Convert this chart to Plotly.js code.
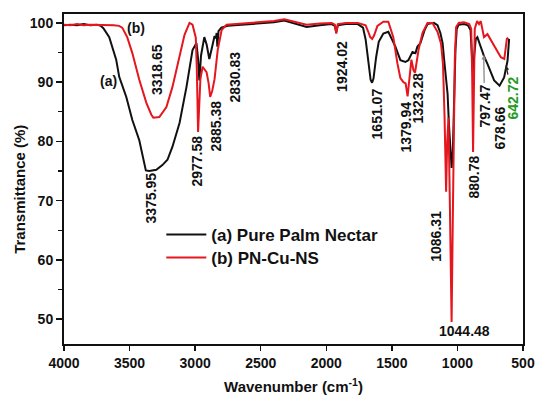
<!DOCTYPE html>
<html>
<head>
<meta charset="utf-8">
<script src="https://cdn.plot.ly/plotly-3.0.1.min.js"></script>
<style>
  html, body { margin: 0; padding: 0; background: #fff; }
  #chart { width: 535px; height: 396px; }
</style>
</head>
<body>
<div id="chart"></div>
<script>
// FTIR spectrum (a): pure palm nectar
var wavenumberA = [4000, 3950, 3900, 3850, 3800, 3750, 3720, 3700, 3655, 3602, 3579, 3525, 3479, 3426,
  3375.95, 3349, 3296, 3250, 3211, 3173, 3119, 3066, 3020, 2990, 2978, 2968, 2955, 2930, 2912, 2892,
  2875, 2852, 2842, 2836, 2830.83, 2822, 2800, 2750, 2700, 2600, 2500, 2400, 2320, 2250, 2150, 2050,
  1960, 1935, 1924.02, 1912, 1850, 1760, 1720, 1700, 1680, 1662, 1651.07, 1640, 1620, 1600, 1565, 1527,
  1473, 1435, 1397, 1374, 1343, 1320, 1305, 1282, 1250, 1228, 1180, 1152, 1130, 1113, 1100, 1086.31,
  1075, 1065, 1055, 1044.48, 1035, 1025, 1015, 1005, 990, 950, 920, 900, 890, 880.78, 872, 860, 848,
  822, 797.47, 771, 720, 678.66, 644, 618, 612, 606];
var transmittanceA = [99.6, 99.7, 99.6, 99.8, 99.6, 99.7, 99.5, 99.1, 97.6, 93.8, 90.9, 87.5, 83.6, 80.2,
  75.1, 75.0, 75.2, 76.0, 76.9, 79.1, 83.1, 89.2, 95.4, 96.6, 94.0, 90.3, 94.5, 97.6, 96.3, 93.9,
  95.5, 97.8, 97.4, 98.3, 96.0, 98.6, 99.2, 99.5, 99.6, 99.8, 99.9, 100.1, 100.4, 100.0, 99.3, 99.6,
  99.8, 99.5, 98.4, 99.6, 99.8, 99.8, 99.2, 97.2, 93.5, 90.4, 89.9, 90.6, 94.2, 96.8, 98.2, 98.5,
  96.0, 93.7, 93.4, 93.7, 95.1, 94.9, 96.0, 96.6, 98.8, 99.8, 100.0, 99.6, 98.3, 96.6, 93.5, 90.8,
  88.0, 83.0, 78.0, 75.5, 78.5, 88.0, 95.5, 99.0, 99.7, 99.8, 99.6, 98.8, 95.5, 90.8, 94.5, 97.3, 97.6,
  95.9, 94.4, 93.1, 90.3, 89.4, 90.8, 93.6, 96.3, 97.3];

// FTIR spectrum (b): PN-Cu-NS
var wavenumberB = [4000, 3950, 3900, 3850, 3800, 3700, 3620, 3580, 3556, 3518, 3479, 3426, 3372, 3334,
  3318.65, 3273, 3219, 3173, 3119, 3081, 3043, 3020, 2995, 2987, 2977.58, 2968, 2960, 2943, 2913, 2897,
  2885.38, 2870, 2852, 2828, 2798, 2760, 2700, 2600, 2500, 2400, 2320, 2250, 2150, 2050, 1960, 1935,
  1924.02, 1912, 1850, 1760, 1700, 1680, 1665, 1650, 1635, 1610, 1565, 1527, 1489, 1458, 1435, 1412,
  1395, 1379.94, 1370, 1351, 1335, 1323.28, 1310, 1297, 1266, 1228, 1190, 1152, 1125, 1110, 1098,
  1086.31, 1078, 1068, 1058, 1050, 1044.48, 1038, 1030, 1020, 1010, 990, 950, 910, 895, 888, 880.78,
  875, 868, 850, 835, 822, 797.47, 771, 720, 669, 642.72, 623, 612];
var transmittanceB = [99.7, 99.6, 99.8, 99.6, 99.7, 99.7, 99.6, 99.5, 99.2, 97.6, 94.9, 90.4, 86.5, 84.5,
  84.0, 84.1, 85.8, 89.2, 94.3, 98.0, 100.0, 99.7, 97.5, 92.0, 81.6, 86.0, 90.5, 92.6, 91.7, 89.8,
  87.5, 88.5, 90.5, 95.4, 98.8, 99.7, 99.8, 100.0, 100.1, 100.3, 100.6, 100.2, 99.7, 99.9, 100.0, 99.7,
  98.2, 99.8, 100.0, 100.0, 99.6, 98.5, 97.6, 97.3, 97.9, 99.5, 100.2, 100.2, 97.6, 93.2, 90.7, 90.0,
  89.8, 87.6, 89.8, 93.8, 92.0, 91.6, 93.5, 95.4, 98.3, 100.0, 100.0, 98.5, 96.5, 93.0, 84.0,
  71.5, 80.0, 84.0, 70.0, 57.0, 49.5, 62.0, 80.0, 94.0, 99.3, 100.0, 100.1, 99.8, 99.0, 92.0, 78.2,
  90.0, 99.0, 100.3, 99.8, 100.3, 97.6, 98.1, 96.2, 94.2, 93.9, 97.3, 97.5];

var seriesNames = ['(a) Pure Palm Nectar', '(b) PN-Cu-NS'];
var xTicks = [4000, 3500, 3000, 2500, 2000, 1500, 1000, 500];
var yTicks = [50, 60, 70, 80, 90, 100];

// Peak labels: text, label centre (wavenumber, transmittance)
var peakText = ['3318.65', '3375.95', '2977.58', '2885.38', '2830.83', '1924.02', '1651.07',
  '1379.94', '1323.28', '1086.31', '880.78', '678.66'];
var peakLabelX = [3296, 3334, 2989, 2844, 2698, 1879, 1611, 1389, 1297, 1159, 876, 677];
var peakLabelY = [92.1, 70.4, 76.7, 82.6, 90.9, 92.6, 84.6, 82.4, 87.3, 64.0, 74.0, 82.3];

// Labels that point at the curve with a small arrow: text, arrow tip, offset of label centre (px)
var arrowText = ['797.47', '642.72'];
var arrowTipX = [800, 630];
var arrowTipY = [94.6, 92.8];
var arrowDx = [1, 7];
var arrowDy = [51, 32];
var arrowTextColor = ['#111', '#1f9a22'];
var arrowLineColor = ['#8a8a8a', '#222'];

var FONT = 'Liberation Sans, Arial, sans-serif';

var traces = [
  { x: wavenumberA, y: transmittanceA, name: seriesNames[0], type: 'scatter', mode: 'lines',
    line: { color: '#111111', width: 2 }, legend: 'legend' },
  { x: wavenumberB, y: transmittanceB, name: seriesNames[1], type: 'scatter', mode: 'lines',
    line: { color: '#e5161e', width: 2 }, legend: 'legend2' }
];

var annotations = [];
for (var i = 0; i < peakText.length; i++) {
  annotations.push({
    x: peakLabelX[i], y: peakLabelY[i], xref: 'x', yref: 'y', text: peakText[i],
    textangle: -90, showarrow: false, xanchor: 'center', yanchor: 'middle',
    font: { family: FONT, size: 14, color: '#111', weight: 'bold' }
  });
}
for (var j = 0; j < arrowText.length; j++) {
  annotations.push({
    x: arrowTipX[j], y: arrowTipY[j], xref: 'x', yref: 'y', text: arrowText[j],
    textangle: -90, showarrow: true, ax: arrowDx[j], ay: arrowDy[j],
    arrowhead: 2, arrowsize: 0.7, arrowwidth: 1.3, arrowcolor: arrowLineColor[j],
    font: { family: FONT, size: 14, color: arrowTextColor[j], weight: 'bold' }
  });
}
// horizontal label under the strongest band
annotations.push({
  x: 945, y: 48.0, xref: 'x', yref: 'y', text: '1044.48', showarrow: false,
  font: { family: FONT, size: 14, color: '#111', weight: 'bold' }
});
// curve tags
annotations.push({ x: 3449, y: 99.2, xref: 'x', yref: 'y', text: '(b)', showarrow: false,
  font: { family: FONT, size: 14, color: '#111', weight: 'bold' } });
annotations.push({ x: 3663, y: 90.2, xref: 'x', yref: 'y', text: '(a)', showarrow: false,
  font: { family: FONT, size: 14, color: '#111', weight: 'bold' } });
// y axis title, set slightly below the plot centre
annotations.push({ x: -0.096, y: 0.47, xref: 'paper', yref: 'paper', text: 'Transmittance (%)',
  textangle: -90, showarrow: false, xanchor: 'center', yanchor: 'middle',
  font: { family: FONT, size: 15, color: '#111', weight: 'bold' } });

var legendFont = { family: FONT, size: 17, color: '#111', weight: 'bold' };

var layout = {
  width: 535, height: 396,
  margin: { l: 64, r: 12, t: 14, b: 52 },
  paper_bgcolor: '#fff', plot_bgcolor: '#fff',
  showlegend: true,
  legend: {
    x: 0.212, y: 0.385, xanchor: 'left', yanchor: 'top',
    bgcolor: 'rgba(0,0,0,0)', borderwidth: 0, font: legendFont, itemwidth: 40
  },
  legend2: {
    x: 0.212, y: 0.315, xanchor: 'left', yanchor: 'top',
    bgcolor: 'rgba(0,0,0,0)', borderwidth: 0, font: legendFont, itemwidth: 40
  },
  xaxis: {
    range: [4000, 500], tickmode: 'array', tickvals: xTicks, ticktext: xTicks.map(String),
    ticks: 'outside', ticklen: 5, tickwidth: 1.5, tickcolor: '#111',
    showline: true, linecolor: '#111', linewidth: 2, mirror: true,
    showgrid: false, zeroline: false,
    tickfont: { family: FONT, size: 14, color: '#111', weight: 'bold' },
    title: { text: 'Wavenumber (cm<sup>-1</sup>)', standoff: 12,
      font: { family: FONT, size: 15, color: '#111', weight: 'bold' } }
  },
  yaxis: {
    range: [45.8, 101.5], tickmode: 'array', tickvals: yTicks, ticktext: yTicks.map(String),
    ticks: 'outside', ticklen: 6, tickwidth: 1.5, tickcolor: '#111',
    minor: { dtick: 5, tick0: 0, ticks: 'outside', ticklen: 4, tickcolor: '#111', tickwidth: 1.2 },
    showline: true, linecolor: '#111', linewidth: 2, mirror: true,
    showgrid: false, zeroline: false,
    tickfont: { family: FONT, size: 14, color: '#111', weight: 'bold' }
  },
  annotations: annotations
};

Plotly.newPlot('chart', traces, layout, { staticPlot: true, displayModeBar: false });
</script>
</body>
</html>
